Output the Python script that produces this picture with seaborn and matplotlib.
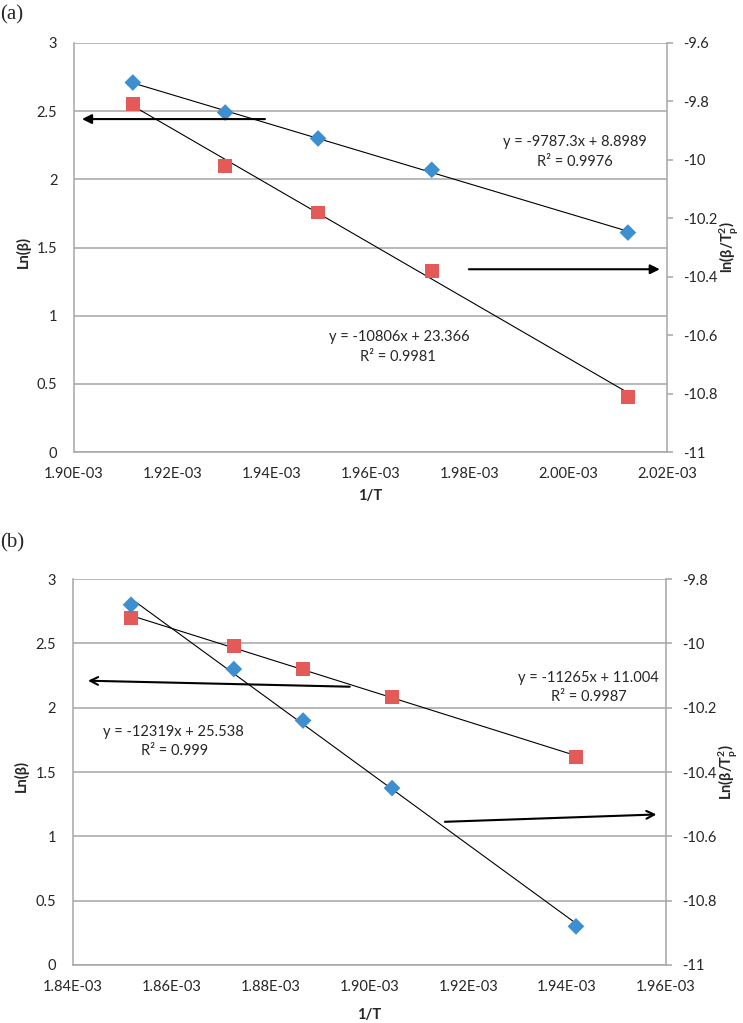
import matplotlib
matplotlib.use("Agg")
import matplotlib.pyplot as plt
from matplotlib.ticker import FuncFormatter, MultipleLocator
import seaborn as sns

# --- Panel (a) data: 1/T, Ln(beta) (left axis), ln(beta/Tp^2) (right axis) ---
inv_t_a = [1.9119e-3, 1.9306e-3, 1.9494e-3, 1.9724e-3, 2.0121e-3]
ln_beta_a = [2.71, 2.49, 2.30, 2.07, 1.61]
ln_beta_tp2_a = [-9.81, -10.02, -10.18, -10.38, -10.81]

# --- Panel (b) data ---
inv_t_b = [1.8518e-3, 1.8726e-3, 1.8866e-3, 1.9046e-3, 1.9418e-3]
ln_beta_b = [2.70, 2.48, 2.30, 2.08, 1.62]
ln_beta_tp2_b = [-9.88, -10.08, -10.24, -10.45, -10.88]

# --- Trendline labels ---
eq_a_upper = ["y = -9787.3x + 8.8989", "R² = 0.9976"]
eq_a_lower = ["y = -10806x + 23.366", "R² = 0.9981"]
eq_b_left = ["y = -12319x + 25.538", "R² = 0.999"]
eq_b_right = ["y = -11265x + 11.004", "R² = 0.9987"]

blue = "#3d8fcf"
red = "#e35a58"
grid_col = "#a6a6a6"

sns.set_style("white")
plt.rcParams['font.family'] = ['Lato', 'DejaVu Sans']
plt.rcParams['mathtext.default'] = 'regular'

fig = plt.figure(figsize=(7.43, 10.23), dpi=100)


def style_axes(ax, ax2, xlim, x_ticklen, rlim):
    ax.set_xlim(*xlim)
    ax.set_ylim(0, 3)
    ax.xaxis.set_major_locator(MultipleLocator(0.02e-3))
    ax.xaxis.set_major_formatter(FuncFormatter(lambda v, p: f"{v:.2E}"))
    ax.yaxis.set_major_locator(MultipleLocator(0.5))
    ax.yaxis.set_major_formatter(FuncFormatter(lambda v, p: f"{v:g}"))
    ax.grid(axis='y', color=grid_col, lw=1.1)
    ax.set_axisbelow(True)
    for s in ['top', 'right']:
        ax.spines[s].set_visible(False)
    for s in ['left', 'bottom']:
        ax.spines[s].set_color(grid_col)
        ax.spines[s].set_linewidth(1.1)
    ax.tick_params(axis='y', length=0, pad=12, labelsize=10.5)
    ax.tick_params(axis='x', length=x_ticklen, color=grid_col, width=1.1,
                   pad=11 - x_ticklen, labelsize=10.5)
    ax2.set_ylim(*rlim)
    ax2.yaxis.set_major_locator(MultipleLocator(0.2))
    ax2.yaxis.set_major_formatter(FuncFormatter(lambda v, p: f"{v:g}"))
    for s in ['top', 'left', 'bottom']:
        ax2.spines[s].set_visible(False)
    ax2.spines['right'].set_color(grid_col)
    ax2.spines['right'].set_linewidth(1.1)
    ax2.tick_params(axis='y', length=4, color=grid_col, width=1.1, pad=8, labelsize=10.5)


def draw_series(ax, x, y, marker, color, size):
    sns.regplot(x=x, y=y, ax=ax, scatter=False, ci=None, truncate=True,
                line_kws=dict(color='black', lw=0.8))
    sns.scatterplot(x=x, y=y, ax=ax, marker=marker, color=color, s=size,
                    edgecolor='none', zorder=3)


def arrow(ax, tail, tip, style):
    ax.annotate("", xy=tip, xytext=tail, xycoords='axes fraction',
                textcoords='axes fraction',
                arrowprops=dict(arrowstyle=style, color='black', lw=1.5,
                                shrinkA=0, shrinkB=0, mutation_scale=14))


def eq_text(ax, pos1, pos2, lines):
    ax.text(*pos1, lines[0], transform=ax.transAxes, ha='center', va='center', fontsize=10.5)
    ax.text(*pos2, lines[1], transform=ax.transAxes, ha='center', va='center', fontsize=10.5)


# ---------------- Panel (a) ----------------
ax_a = fig.add_axes([0.0996, 0.558, 0.798, 0.400])
ax_a2 = ax_a.twinx()
style_axes(ax_a, ax_a2, (1.90e-3, 2.02e-3), 0, (-11, -9.6))
draw_series(ax_a, inv_t_a, ln_beta_a, 'D', blue, 72)
draw_series(ax_a2, inv_t_a, ln_beta_tp2_a, 's', red, 100)
ax_a.set_xlim(1.90e-3, 2.02e-3)
ax_a.set_xlabel("1/T", fontsize=10.5, fontweight='bold')
ax_a.set_ylabel("Ln(β)", fontsize=10.5, fontweight='bold')
ax_a2.set_ylabel(r"ln(β/T$_\mathregular{p}^\mathregular{2}$)", fontsize=10.5, fontweight='bold')
ax_a.xaxis.set_label_coords(0.50, -0.09)
ax_a.yaxis.set_label_coords(-0.073, 0.49)
ax_a2.yaxis.set_label_coords(1.086, 0.50)
arrow(ax_a2, (0.322, 0.814), (0.0135, 0.814), '-|>')
arrow(ax_a2, (0.666, 0.447), (0.988, 0.447), '-|>')
eq_text(ax_a2, (0.845, 0.758), (0.845, 0.709), eq_a_upper)
eq_text(ax_a2, (0.548, 0.281), (0.546, 0.232), eq_a_lower)

# ---------------- Panel (b) ----------------
ax_b = fig.add_axes([0.0978, 0.0567, 0.7985, 0.3773])
ax_b2 = ax_b.twinx()
style_axes(ax_b, ax_b2, (1.84e-3, 1.96e-3), 4, (-11, -9.8))
draw_series(ax_b, inv_t_b, ln_beta_b, 's', red, 100)
draw_series(ax_b2, inv_t_b, ln_beta_tp2_b, 'D', blue, 72)
ax_b.set_xlim(1.84e-3, 1.96e-3)
ax_b.set_xlabel("1/T", fontsize=10.5, fontweight='bold')
ax_b.set_ylabel("Ln(β)", fontsize=10.5, fontweight='bold')
ax_b2.set_ylabel(r"Ln(β/T$_\mathregular{p}^\mathregular{2}$)", fontsize=10.5, fontweight='bold')
ax_b.xaxis.set_label_coords(0.50, -0.112)
ax_b.yaxis.set_label_coords(-0.073, 0.49)
ax_b2.yaxis.set_label_coords(1.086, 0.50)
arrow(ax_b2, (0.467, 0.721), (0.0258, 0.7365), '->')
arrow(ax_b2, (0.6275, 0.371), (0.984, 0.390), '->')
eq_text(ax_b2, (0.169, 0.604), (0.172, 0.554), eq_b_left)
eq_text(ax_b2, (0.870, 0.744), (0.870, 0.694), eq_b_right)

fig.text(0.0, 1 - 15 / 1023, "(a)", ha='left', va='center', fontsize=15,
         family='Liberation Serif')
fig.text(0.0, 1 - 543 / 1023, "(b)", ha='left', va='center', fontsize=15,
         family='Liberation Serif')

fig.savefig("out.png", dpi=100)
